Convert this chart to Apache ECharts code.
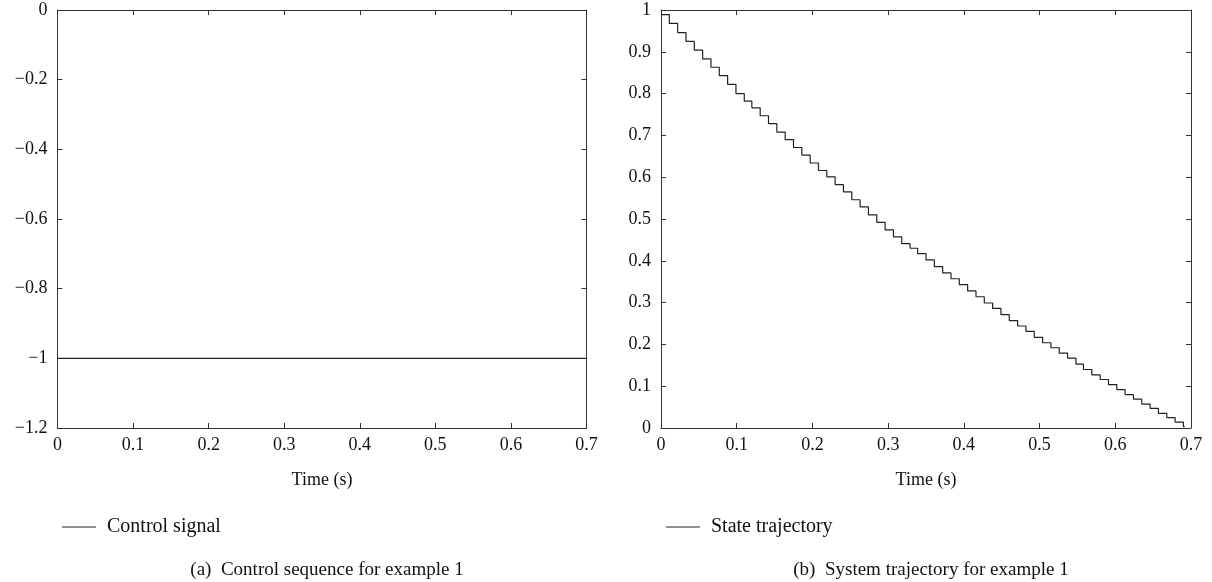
<!DOCTYPE html>
<html>
<head>
<meta charset="utf-8">
<script src="https://cdn.jsdelivr.net/npm/echarts@6/dist/echarts.min.js"></script>
<style>
html,body{margin:0;padding:0;background:#fff;}
#chart{width:1212px;height:582px;}
</style>
</head>
<body>
<div id="chart"></div>
<script>
// Left panel: control signal
const controlTime = [0, 0.7];
const controlValues = [-1, -1];

// Right panel: state trajectory (staircase levels)
const stateTime = [0, 0.011, 0.022, 0.033, 0.044, 0.055, 0.066, 0.077, 0.088, 0.099,
  0.110, 0.120, 0.131, 0.142, 0.153, 0.164, 0.175, 0.186, 0.197, 0.208,
  0.219, 0.230, 0.241, 0.252, 0.263, 0.274, 0.285, 0.296, 0.307, 0.318,
  0.329, 0.339, 0.350, 0.361, 0.372, 0.383, 0.394, 0.405, 0.416, 0.427,
  0.438, 0.449, 0.460, 0.471, 0.482, 0.493, 0.504, 0.515, 0.526, 0.537,
  0.548, 0.558, 0.569, 0.580, 0.591, 0.602, 0.613, 0.624, 0.635, 0.646,
  0.657, 0.668, 0.679, 0.690, 0.692];
const stateValues = [0.989, 0.968, 0.946, 0.925, 0.904, 0.883, 0.863, 0.843, 0.822, 0.800,
  0.782, 0.766, 0.747, 0.728, 0.708, 0.690, 0.671, 0.653, 0.634, 0.616,
  0.601, 0.582, 0.565, 0.546, 0.529, 0.510, 0.492, 0.474, 0.457, 0.441,
  0.430, 0.417, 0.402, 0.386, 0.371, 0.357, 0.343, 0.328, 0.314, 0.299,
  0.286, 0.271, 0.257, 0.244, 0.231, 0.217, 0.204, 0.192, 0.179, 0.167,
  0.153, 0.140, 0.127, 0.116, 0.104, 0.092, 0.080, 0.069, 0.057, 0.047,
  0.035, 0.025, 0.014, 0.003, 0.003];

const xTicks = { min: 0, max: 0.7, interval: 0.1 };
const leftYTicks = { min: -1.2, max: 0, interval: 0.2 };
const rightYTicks = { min: 0, max: 1, interval: 0.1 };
const legendNames = ['Control signal', 'State trajectory'];
const captions = ['(a)  Control sequence for example 1', '(b)  System trajectory for example 1'];

const FONT = 'Liberation Serif';
const AX = '#333';
function fmt(v) {
  const r = Math.round(v * 10) / 10;
  return String(r).replace('-', '\u2212');
}
function xAxisPair(gi) {
  return [
    { type: 'value', gridIndex: gi, position: 'bottom', min: xTicks.min, max: xTicks.max, interval: xTicks.interval,
      axisLine: { onZero: false, lineStyle: { color: AX, width: 1 } },
      axisTick: { inside: true, length: 5, lineStyle: { color: AX } },
      axisLabel: { color: '#111', fontFamily: FONT, fontSize: 18, margin: 8, formatter: fmt },
      splitLine: { show: false },
      name: 'Time (s)', nameLocation: 'middle', nameGap: 43,
      nameTextStyle: { color: '#111', fontFamily: FONT, fontSize: 18 } },
    { type: 'value', gridIndex: gi, position: 'top', min: xTicks.min, max: xTicks.max, interval: xTicks.interval,
      axisLine: { onZero: false, lineStyle: { color: AX, width: 1 } },
      axisTick: { inside: true, length: 5, lineStyle: { color: AX } },
      axisLabel: { show: false }, splitLine: { show: false } }
  ];
}
function yAxisPair(gi, t) {
  return [
    { type: 'value', gridIndex: gi, position: 'left', min: t.min, max: t.max, interval: t.interval,
      axisLine: { show: true, onZero: false, lineStyle: { color: AX, width: 1 } },
      axisTick: { show: true, inside: true, length: 5, lineStyle: { color: AX } },
      axisLabel: { color: '#111', fontFamily: FONT, fontSize: 18, margin: 10, formatter: fmt },
      splitLine: { show: false } },
    { type: 'value', gridIndex: gi, position: 'right', min: t.min, max: t.max, interval: t.interval,
      axisLine: { show: true, onZero: false, lineStyle: { color: AX, width: 1 } },
      axisTick: { show: true, inside: true, length: 5, lineStyle: { color: AX } },
      axisLabel: { show: false }, splitLine: { show: false } }
  ];
}

const chart = echarts.init(document.getElementById('chart'), null, { renderer: 'canvas' });
chart.setOption({
  animation: false,
  backgroundColor: '#fff',
  grid: [
    { left: 57.5, top: 10, width: 529, height: 418 },
    { left: 661, top: 10, width: 530, height: 418 }
  ],
  xAxis: [...xAxisPair(0), ...xAxisPair(1)],
  yAxis: [...yAxisPair(0, leftYTicks), ...yAxisPair(1, rightYTicks)],
  legend: [
    { data: [legendNames[0]], left: 57, top: 512, icon: 'rect', itemWidth: 34, itemHeight: 1.2, itemGap: 10,
      textStyle: { color: '#111', fontFamily: FONT, fontSize: 20, padding: [0, 0, 0, 6] } },
    { data: [legendNames[1]], left: 661, top: 512, icon: 'rect', itemWidth: 34, itemHeight: 1.2, itemGap: 10,
      textStyle: { color: '#111', fontFamily: FONT, fontSize: 20, padding: [0, 0, 0, 6] } }
  ],
  title: [
    { text: captions[0], left: 322, top: 556, textAlign: 'center',
      textStyle: { color: '#111', fontFamily: FONT, fontSize: 19, fontWeight: 'normal' } },
    { text: captions[1], left: 926, top: 556, textAlign: 'center',
      textStyle: { color: '#111', fontFamily: FONT, fontSize: 19, fontWeight: 'normal' } }
  ],
  series: [
    { name: legendNames[0], type: 'line', xAxisIndex: 0, yAxisIndex: 0,
      data: controlTime.map((t, i) => [t, controlValues[i]]),
      showSymbol: false, symbol: 'none', color: '#222',
      lineStyle: { color: '#222', width: 1.2 } },
    { name: legendNames[1], type: 'line', xAxisIndex: 2, yAxisIndex: 2, step: 'end',
      data: stateTime.map((t, i) => [t, stateValues[i]]),
      showSymbol: false, symbol: 'none', color: '#222',
      lineStyle: { color: '#222', width: 1.2 } }
  ]
});
</script>
</body>
</html>
